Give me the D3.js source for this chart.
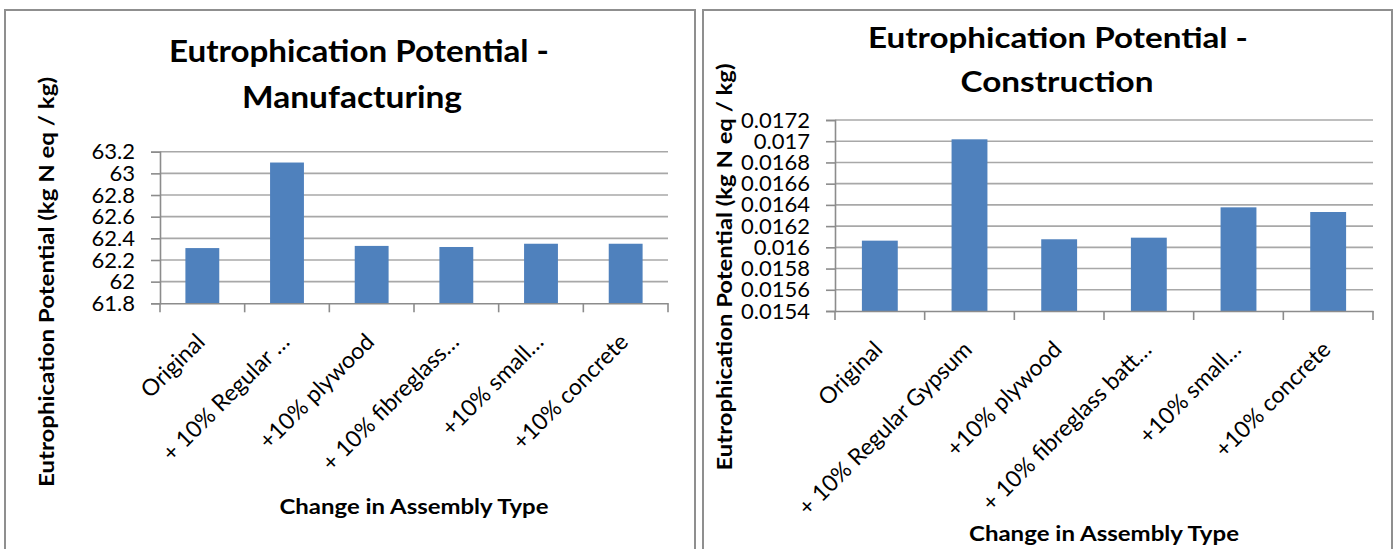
<!DOCTYPE html>
<html>
<head>
<meta charset="utf-8">
<script src="https://cdn.jsdelivr.net/npm/d3@7"></script>
<style>
  html, body { margin: 0; padding: 0; background: #fff; }
  svg { display: block; }
  text { font-family: Lato, "Open Sans", "Liberation Sans", sans-serif; fill: #000; }
</style>
</head>
<body>
<svg id="chart" width="1398" height="549"></svg>
<script>
// ---- Manufacturing panel data ----
const categoriesManufacturing = ["Original", "+ 10% Regular \u2026", "+10% plywood", "+ 10% fibreglass\u2026", "+10% small\u2026", "+10% concrete"];
const valuesManufacturing = [62.31, 63.10, 62.33, 62.32, 62.35, 62.35];
const yTicksManufacturing = [61.8, 62, 62.2, 62.4, 62.6, 62.8, 63, 63.2];
const yTickLabelsManufacturing = ["61.8", "62", "62.2", "62.4", "62.6", "62.8", "63", "63.2"];
const titleManufacturing = ["Eutrophication Potential -", "Manufacturing"];

// ---- Construction panel data ----
const categoriesConstruction = ["Original", "+ 10% Regular Gypsum", "+10% plywood", "+ 10% fibreglass batt\u2026", "+10% small\u2026", "+10% concrete"];
const valuesConstruction = [0.016063, 0.017018, 0.016076, 0.016091, 0.016377, 0.016333];
const yTicksConstruction = [0.0154, 0.0156, 0.0158, 0.016, 0.0162, 0.0164, 0.0166, 0.0168, 0.017, 0.0172];
const yTickLabelsConstruction = ["0.0154", "0.0156", "0.0158", "0.016", "0.0162", "0.0164", "0.0166", "0.0168", "0.017", "0.0172"];
const titleConstruction = ["Eutrophication Potential -", "Construction"];

// ---- Shared axis titles ----
const yAxisTitle = "Eutrophication Potential (kg N eq / kg)";
const xAxisTitle = "Change in Assembly Type";

const svg = d3.select("#chart");
const BAR = "#4f81bd";
const GRID = "#a8a8a8";
const AXIS = "#8c8c8c";

function drawPanel(cfg) {
  const g = svg.append("g");

  // chart frame
  g.append("rect")
    .attr("x", cfg.frame[0]).attr("y", cfg.frame[1])
    .attr("width", cfg.frame[2]).attr("height", cfg.frame[3])
    .attr("fill", "#fff").attr("stroke", "#8f8f8f").attr("stroke-width", 2);

  const x = d3.scaleBand().domain(cfg.categories).range([cfg.plot.l, cfg.plot.r]).padding(0);
  const y = d3.scaleLinear().domain(d3.extent(cfg.yTicks)).range([cfg.plot.b, cfg.plot.t]);

  // horizontal gridlines
  g.append("g").selectAll("line").data(cfg.yTicks.slice(1)).join("line")
    .attr("x1", cfg.plot.l).attr("x2", cfg.plot.r)
    .attr("y1", d => y(d)).attr("y2", d => y(d))
    .attr("stroke", GRID).attr("stroke-width", 1.6);

  // y axis with tick labels
  const yAxis = d3.axisLeft(y)
    .tickValues(cfg.yTicks)
    .tickFormat((d, i) => cfg.yLabels[i])
    .tickSize(9).tickPadding(16);
  const ya = g.append("g").attr("transform", `translate(${cfg.plot.l},0)`).call(yAxis);
  ya.select(".domain").attr("stroke", AXIS).attr("stroke-width", 1.6);
  ya.selectAll(".tick line").attr("stroke", AXIS).attr("stroke-width", 1.6);
  ya.selectAll(".tick text")
    .attr("font-size", 22).attr("fill", "#111")
    .style("font-family", "Lato, 'Open Sans', sans-serif");

  // bars (Excel gap width 150%)
  const bw = x.bandwidth() * 0.4;
  g.append("g").selectAll("rect").data(cfg.values).join("rect")
    .attr("x", (d, i) => x(cfg.categories[i]) + (x.bandwidth() - bw) / 2)
    .attr("width", bw)
    .attr("y", d => y(d))
    .attr("height", d => y(y.domain()[0]) - y(d))
    .attr("fill", BAR);

  // x axis line with category boundary ticks
  const xAxis = d3.axisBottom(x).tickSize(0).tickFormat("");
  const xa = g.append("g").attr("transform", `translate(0,${cfg.plot.b})`).call(xAxis);
  xa.select(".domain").attr("stroke", AXIS).attr("stroke-width", 1.6);
  const bounds = cfg.categories.map(c => x(c)).concat([x.range()[1]]);
  g.append("g").selectAll("line").data(bounds).join("line")
    .attr("x1", d => d).attr("x2", d => d)
    .attr("y1", cfg.plot.b).attr("y2", cfg.plot.b + 9)
    .attr("stroke", AXIS).attr("stroke-width", 1.6);

  // rotated category labels
  g.append("g").selectAll("text").data(cfg.categories).join("text")
    .attr("text-anchor", "end")
    .attr("font-size", 23)
    .attr("transform", d => `translate(${x(d) + x.bandwidth() / 2 + 4},${cfg.plot.b + 40}) rotate(-45)`)
    .text(d => d);

  // chart title (two lines)
  cfg.title.forEach((t, i) => {
    g.append("text")
      .attr("x", cfg.titlePos[i][0]).attr("y", cfg.titlePos[i][1])
      .attr("text-anchor", "middle")
      .attr("font-size", cfg.titleSize).attr("font-weight", "bold")
      .attr("textLength", cfg.titlePos[i][2]).attr("lengthAdjust", "spacingAndGlyphs")
      .text(t);
  });

  // y axis title
  g.append("text")
    .attr("transform", `translate(${cfg.yTitle[0]},${cfg.yTitle[1]}) rotate(-90)`)
    .attr("text-anchor", "middle")
    .attr("font-size", 21).attr("font-weight", "bold")
    .attr("textLength", cfg.yTitle[2]).attr("lengthAdjust", "spacingAndGlyphs")
    .text(yAxisTitle);

  // x axis title
  g.append("text")
    .attr("x", cfg.xTitle[0]).attr("y", cfg.xTitle[1])
    .attr("text-anchor", "middle")
    .attr("font-size", 21).attr("font-weight", "bold")
    .attr("textLength", cfg.xTitle[2]).attr("lengthAdjust", "spacingAndGlyphs")
    .text(xAxisTitle);
}

drawPanel({
  frame: [5, 10, 690, 560],
  plot: { l: 160, r: 668, t: 151.7, b: 303.3 },
  categories: categoriesManufacturing,
  values: valuesManufacturing,
  yTicks: yTicksManufacturing,
  yLabels: yTickLabelsManufacturing,
  title: titleManufacturing,
  titleSize: 31,
  titlePos: [[359, 62, 380], [352, 108, 220]],
  yTitle: [54, 282, 410],
  xTitle: [414, 514, 269]
});

drawPanel({
  frame: [703, 10, 689, 560],
  plot: { l: 835, r: 1373, t: 120, b: 311 },
  categories: categoriesConstruction,
  values: valuesConstruction,
  yTicks: yTicksConstruction,
  yLabels: yTickLabelsConstruction,
  title: titleConstruction,
  titleSize: 29,
  titlePos: [[1058, 48, 380], [1057, 92, 193]],
  yTitle: [732, 267, 407],
  xTitle: [1104, 541, 270]
});
</script>
</body>
</html>
